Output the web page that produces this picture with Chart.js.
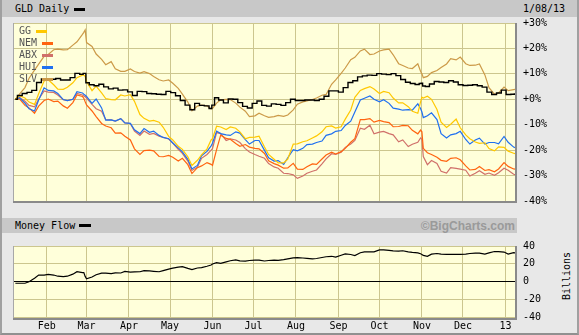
<!DOCTYPE html>
<html><head><meta charset="utf-8">
<script src="https://cdn.jsdelivr.net/npm/chart.js@4.4.1/dist/chart.umd.min.js"></script>
<style>
html,body{margin:0;padding:0;}
body{width:579px;height:335px;position:relative;overflow:hidden;background:#E8E8E8;font-family:"DejaVu Sans Mono",monospace;}
.band{position:absolute;background:#C8C8C8;}
.t{position:absolute;font-size:10px;line-height:12px;color:#000;white-space:nowrap;font-family:"DejaVu Sans Mono",monospace;}
.sw{position:absolute;background:#000;}
canvas{position:absolute;left:0;}
#frame{position:absolute;left:0;top:0;width:579px;height:335px;box-sizing:border-box;border-left:2px solid #A0A0A0;border-right:2px solid #A0A0A0;border-bottom:2px solid #909090;pointer-events:none;}
#bc{position:absolute;right:64px;top:219px;font:bold 12px "Liberation Sans",Arial,sans-serif;color:#9A9A9A;line-height:14px;}
#bil{position:absolute;left:537px;top:270px;width:60px;height:12px;text-align:center;transform:rotate(-90deg);}
</style>
</head><body>
<div class="band" style="left:2px;top:0;width:575px;height:17px;"></div>
<div class="t" style="left:15px;top:3px;">GLD Daily</div>
<div class="sw" style="left:74px;top:8px;width:11px;height:3px;"></div>
<div class="t" style="left:523px;top:3px;">1/08/13</div>
<div class="band" style="left:2px;top:218px;width:515px;height:15px;"></div>
<div class="t" style="left:15px;top:220px;">Money Flow</div>
<div class="sw" style="left:79px;top:224px;width:12px;height:3px;"></div>
<div id="bc">©BigCharts.com</div>
<div class="t" id="bil">Billions</div>
<canvas id="c1" width="579" height="215" style="top:0;width:579px;height:215px;"></canvas>
<canvas id="c2" width="579" height="103" style="top:232px;width:579px;height:103px;"></canvas>
<div id="frame"></div>
<script>
const dates = [
'2012-01-09','2012-01-12','2012-01-16','2012-01-19','2012-01-23','2012-01-26','2012-01-30',
'2012-02-02','2012-02-06','2012-02-09','2012-02-13','2012-02-16','2012-02-20','2012-02-23','2012-02-27','2012-02-28','2012-02-29',
'2012-03-01','2012-03-05','2012-03-08','2012-03-12','2012-03-15','2012-03-19','2012-03-22','2012-03-26','2012-03-29',
'2012-04-02','2012-04-05','2012-04-09','2012-04-12','2012-04-16','2012-04-19','2012-04-23','2012-04-26','2012-04-30',
'2012-05-03','2012-05-07','2012-05-10','2012-05-14','2012-05-17','2012-05-21','2012-05-24','2012-05-28','2012-05-31',
'2012-06-01','2012-06-04','2012-06-07','2012-06-11','2012-06-14','2012-06-18','2012-06-21','2012-06-25','2012-06-28',
'2012-07-02','2012-07-05','2012-07-09','2012-07-12','2012-07-16','2012-07-19','2012-07-23','2012-07-26','2012-07-30',
'2012-08-02','2012-08-06','2012-08-09','2012-08-13','2012-08-16','2012-08-20','2012-08-23','2012-08-27','2012-08-30',
'2012-09-03','2012-09-06','2012-09-10','2012-09-13','2012-09-17','2012-09-20','2012-09-24','2012-09-27',
'2012-10-01','2012-10-04','2012-10-08','2012-10-11','2012-10-15','2012-10-18','2012-10-22','2012-10-25','2012-10-29','2012-10-31',
'2012-11-01','2012-11-02','2012-11-05','2012-11-08','2012-11-12','2012-11-15','2012-11-19','2012-11-22','2012-11-26','2012-11-29',
'2012-12-03','2012-12-06','2012-12-10','2012-12-13','2012-12-17','2012-12-20','2012-12-24','2012-12-27','2012-12-31',
'2013-01-03','2013-01-07','2013-01-08'];

const gld = [0,1.5,2.3,2.7,3.5,6.6,8.0,
8.0,7.9,8.2,7.6,7.6,8.5,10.2,9.8,10.2,10.2,
6.5,5.7,5.3,5.9,4.9,4.1,4.4,3.6,3.7,
2.9,1.5,3.1,3.0,2.3,2.2,2.0,1.9,3.1,
2.6,1.4,-0.5,-2.3,-4.1,-1.6,-2.4,-2.6,-3.6,
-2.3,0.6,-0.3,-1.4,0.1,0.0,-1.3,-2.8,-3.4,
-1.6,-0.7,-2.4,-2.7,-1.8,-2.0,-2.4,-1.3,0.0,
-0.5,-0.5,-0.3,-0.3,-0.5,0.0,1.2,3.3,3.3,
2.8,4.6,6.6,7.3,8.8,9.2,9.5,9.4,
10.1,9.9,9.7,10.1,9.3,7.8,6.7,6.2,5.8,6.2,
6.3,5.2,5.0,6.0,7.0,6.8,6.6,7.3,6.8,5.7,
5.4,5.5,5.7,5.3,4.8,2.8,1.9,2.5,3.6,
1.9,2.0,2.1];

const gg = [0,1.4,0.5,-1.1,-2.0,2.2,7.2,
7.7,5.7,4.0,3.9,4.7,6.5,8.5,9.5,9.5,9.0,
7.0,3.4,5.2,2.5,0.3,-0.1,-0.2,1.7,1.3,
1.8,-0.8,-6.0,-7.5,-8.6,-8.3,-9.0,-11.0,-14.6,
-16.0,-18.5,-19.7,-22.6,-26.0,-24.0,-21.9,-19.5,-16.0,
-15.5,-10.6,-10.9,-11.9,-10.9,-11.4,-12.8,-15.5,-15.0,
-14.9,-14.5,-18.8,-21.7,-23.6,-25.0,-25.0,-23.5,-17.6,
-17.5,-16.7,-16.3,-15.2,-14.4,-12.8,-10.8,-10.5,-11.3,
-10.8,-7.8,-4.2,0.8,3.5,4.2,5.0,4.0,
2.3,3.1,2.6,0.5,-1.4,-1.4,-2.9,-4.7,-5.5,-1.0,
0.8,0.5,1.2,0.0,-4.0,-9.0,-11.1,-9.8,-7.8,-11.2,
-14.0,-15.5,-16.8,-17.3,-17.1,-19.4,-20.3,-18.7,-18.9,
-20.4,-21.2,-21.4];

const nem = [0,0.2,-2.4,-3.4,-5.5,-2.7,-0.5,
0.1,-0.9,-0.7,-2.6,-3.5,-1.3,1.7,1.1,0.4,-1.0,
-2.2,-4.6,-6.8,-9.5,-10.5,-11.2,-13.3,-13.2,-14.5,
-16.0,-19.5,-21.7,-20.2,-20.0,-20.3,-22.5,-22.6,-22.1,
-22.8,-24.3,-23.2,-25.7,-29.2,-26.9,-26.2,-24.9,-25.6,
-26.0,-19.8,-14.1,-15.4,-15.7,-17.4,-18.5,-17.8,-18.8,
-19.3,-19.5,-21.3,-24.2,-25.3,-25.9,-27.1,-27.0,-25.2,
-27.5,-27.6,-26.5,-25.4,-25.6,-23.5,-21.9,-20.8,-21.5,
-20.6,-19.3,-16.9,-15.5,-8.0,-8.0,-7.6,-9.0,
-8.3,-8.8,-9.2,-10.8,-10.7,-10.3,-10.4,-12.2,-13.6,-12.1,
-12.8,-19.3,-21.0,-21.7,-22.8,-24.0,-24.4,-23.2,-23.0,-23.8,
-26.2,-27.8,-27.6,-26.4,-28.0,-27.7,-28.5,-27.4,-24.9,
-26.4,-27.4,-27.5];

const abx = [0,0.7,-0.8,-2.4,-3.0,0.0,3.3,
2.8,2.7,1.7,-0.2,-0.5,0.0,2.3,1.7,1.3,1.0,
0.5,-2.0,-3.7,-4.7,-8.0,-8.1,-8.6,-7.6,-9.3,
-9.5,-12.5,-14.2,-12.5,-13.8,-13.4,-14.5,-15.0,-15.6,
-17.2,-19.7,-21.3,-24.3,-28.0,-26.7,-23.2,-21.7,-20.0,
-19.4,-13.1,-13.5,-16.2,-15.6,-16.0,-17.0,-19.4,-20.7,
-21.7,-22.4,-23.2,-25.3,-26.6,-27.1,-29.1,-29.2,-29.7,
-31.1,-30.2,-29.1,-28.3,-27.8,-25.4,-23.4,-21.4,-21.7,
-20.8,-18.9,-17.6,-16.2,-11.4,-11.8,-10.2,-13.6,
-12.9,-12.6,-13.5,-14.0,-16.7,-16.0,-18.6,-17.7,-16.9,-15.2,
-15.8,-22.5,-25.7,-24.1,-25.2,-28.3,-29.0,-26.9,-27.2,-27.5,
-27.9,-30.2,-29.1,-28.1,-29.5,-29.0,-29.9,-28.9,-27.1,
-27.9,-29.5,-29.6];

const hui = [0,0.6,-1.5,-3.7,-4.6,-0.3,4.5,
3.5,3.3,2.3,-0.1,-0.5,0.0,3.0,2.5,2.0,1.6,
1.1,-1.6,0.1,-3.4,-8.2,-8.1,-8.6,-7.6,-9.3,
-9.5,-12.0,-13.5,-11.5,-13.0,-12.5,-14.2,-15.0,-15.5,
-17.2,-19.1,-20.7,-23.6,-27.4,-26.0,-22.2,-20.5,-18.3,
-17.3,-12.5,-13.5,-14.0,-14.2,-12.8,-13.3,-15.9,-17.6,
-16.2,-16.2,-20.1,-23.0,-24.3,-24.1,-25.6,-23.0,-19.8,
-20.3,-19.3,-17.8,-17.6,-17.0,-16.4,-14.2,-13.6,-12.6,
-12.3,-10.3,-8.6,-5.0,-0.3,0.4,1.3,0.0,
-1.0,-0.2,-1.6,-3.5,-3.9,-4.3,-4.1,-4.3,-1.8,-3.6,
-5.0,-7.2,-6.5,-5.3,-8.0,-13.5,-15.2,-14.0,-13.5,-12.6,
-15.8,-17.6,-16.0,-15.3,-17.6,-17.0,-17.0,-17.5,-14.6,
-16.9,-18.8,-19.0];

const slv = [0,2.0,4.6,8.3,11.5,13.8,16.9,
17.6,19.5,19.7,19.4,19.5,21.3,22.6,25.5,26.3,27.3,
22.3,20.8,17.8,15.7,13.6,14.8,12.0,11.0,11.0,
11.9,10.9,10.3,10.9,10.1,9.0,7.7,7.2,7.6,
6.3,4.3,2.0,-1.1,-4.5,-2.7,-2.3,-2.6,-3.8,
-3.6,-1.5,-0.2,0.0,-0.1,-1.5,-3.1,-4.7,-6.8,
-6.5,-5.5,-6.5,-7.1,-6.8,-6.3,-6.7,-6.2,-4.2,
-1.9,-1.0,-0.6,-0.1,0.5,1.6,1.9,5.9,7.6,
10.2,12.3,15.6,16.5,19.0,19.7,17.6,17.8,
19.0,19.4,19.7,17.5,14.0,13.3,12.3,12.1,14.0,11.0,
10.0,8.5,9.0,10.5,11.3,12.5,13.9,16.0,15.5,16.6,
14.0,13.3,13.4,13.9,9.6,4.6,2.0,2.5,4.8,
3.4,3.8,3.9];

const moneyFlow = [-1.7,-1.7,-1.7,0,4.0,7.5,7.5,
8.2,7.5,6.2,5.8,6.2,8.5,11.2,10.2,10.2,6.0,
3.4,5.3,7.8,9.7,9.7,9.2,10.0,9.8,11.6,
10.8,11.0,11.2,12.5,12.1,11.7,11.2,12.5,14.2,
15.3,16.3,17.0,15.0,13.7,15.4,15.9,17.3,18.7,
19.8,21.4,20.5,22.2,23.5,24.5,23.4,23.0,23.8,
24.2,24.2,23.2,23.8,24.3,24.0,24.7,25.5,26.7,
27.0,26.6,26.2,25.7,26.0,27.1,28.0,28.5,27.6,
29.6,31.1,30.5,29.2,32.5,33.5,33.5,33.5,
35.7,35.6,35.1,34.5,34.2,34.7,33.4,32.8,32.3,31.3,
30.6,29.5,28.5,30.9,31.6,30.9,30.6,30.6,30.6,30.6,
30.9,31.6,32.1,32.0,31.0,32.3,33.8,33.6,33.2,
31.0,32.5,32.3];

const monthTicks = ['2012-02-01','2012-03-01','2012-04-01','2012-05-01','2012-06-01','2012-07-01','2012-08-01','2012-09-01','2012-10-01','2012-11-01','2012-12-01','2013-01-01'];
const monthLabels = ['Feb','Mar','Apr','May','Jun','Jul','Aug','Sep','Oct','Nov','Dec','13'];
const pctTicks = [30,20,10,0,-10,-20,-30,-40];
const flowTicks = [40,20,0,-20,-40];
const legendNames = ['GG','NEM','ABX','HUI','SLV'];

const COLORS = {GLD:'#000000', GG:'#FFC800', NEM:'#FF6410', ABX:'#D0706A', HUI:'#2070F0', SLV:'#CC9A48'};
const GRID = '#CCC68E';
const PLOT_BG = '#FFFFDA';
const FONT = {family:'"DejaVu Sans Mono", monospace', size:10};
const xMin = Date.UTC(2012,0,8), xMax = Date.UTC(2013,0,8);
const xs = dates.map(d => Date.parse(d));
const pts = arr => arr.map((v,i) => ({x: xs[i], y: v}));

function xAxis(showLabels, h){
  return {
    type:'linear', min:xMin, max:xMax,
    afterBuildTicks: s => { s.ticks = monthTicks.map(d => ({value: Date.parse(d)})); },
    ticks:{display:showLabels, autoSkip:false, maxRotation:0, padding:3, color:'#000', font:FONT,
      callback: v => { const i = monthTicks.findIndex(d => Date.parse(d) === v); return i >= 0 ? monthLabels[i] : ''; }},
    grid:{color:GRID, drawTicks:false, lineWidth:1},
    border:{display:false},
    afterFit: s => { s.height = h; }
  };
}

const bgPlugin = {
  id:'bg',
  beforeDraw(chart){
    const {ctx, chartArea:a} = chart;
    ctx.save(); ctx.fillStyle = PLOT_BG;
    ctx.fillRect(a.left, a.top, a.right-a.left, a.bottom-a.top);
    ctx.restore();
  },
  afterDraw(chart){
    const {ctx, chartArea:a} = chart;
    ctx.save();
    ctx.fillStyle = '#A8A8A8';
    ctx.fillRect(Math.round(a.left)-1, Math.round(a.top), 1, Math.round(a.bottom-a.top)+1);
    ctx.fillStyle = '#8A8A8A';
    ctx.fillRect(Math.round(a.left)-1, Math.round(a.bottom), Math.round(a.right-a.left)+3, 2);
    ctx.fillRect(Math.round(a.right), Math.round(a.top), 2, Math.round(a.bottom-a.top)+2);
    ctx.restore();
  }
};

const legendPlugin = {
  id:'legendOverlay',
  afterDatasetsDraw(chart){
    const {ctx, chartArea:a} = chart;
    ctx.save();
    ctx.font = '10px "DejaVu Sans Mono", monospace';
    ctx.textBaseline = 'middle';
    legendNames.forEach((n, i) => {
      const y = a.top + 8 + i*12;
      const x = a.left + 5;
      ctx.fillStyle = '#555555';
      ctx.fillText(n, x, y);
      const w = ctx.measureText(n).width;
      ctx.fillStyle = COLORS[n];
      ctx.fillRect(Math.round(x + w + 5), Math.round(y) - 1, 11, 3);
    });
    ctx.restore();
  }
};

function ds(label, arr, extra){
  return Object.assign({label, data: pts(arr), borderColor: COLORS[label], borderWidth:1.2,
    pointRadius:0, tension:0, fill:false}, extra || {});
}

new Chart(document.getElementById('c1'), {
  type:'line',
  data:{datasets:[
    ds('GLD', gld, {stepped:'middle', borderWidth:1.4}),
    ds('GG', gg), ds('HUI', hui), ds('NEM', nem), ds('ABX', abx), ds('SLV', slv)
  ]},
  options:{
    responsive:false, animation:false, devicePixelRatio:1,
    layout:{padding:{left:14, top:23, right:0, bottom:7}},
    plugins:{legend:{display:false}, tooltip:{enabled:false}},
    scales:{
      x: xAxis(false, 0),
      y: {position:'right', min:-40, max:30,
        afterBuildTicks: s => { s.ticks = pctTicks.map(v => ({value:v})); },
        ticks:{padding:8, color:'#000', font:FONT, callback: v => (v >= 0 ? '+' : '') + v + '%'},
        grid:{color:GRID, drawTicks:false, lineWidth:1},
        border:{display:false},
        afterFit: s => { s.width = 64; }}
    }
  },
  plugins:[bgPlugin, legendPlugin]
});

new Chart(document.getElementById('c2'), {
  type:'line',
  data:{datasets:[ds('GLD', moneyFlow, {label:'Money Flow', borderColor:'#000', borderWidth:1.2})]},
  options:{
    responsive:false, animation:false, devicePixelRatio:1,
    layout:{padding:{left:14, top:7, right:0, bottom:0}},
    plugins:{legend:{display:false}, tooltip:{enabled:false}},
    scales:{
      x: xAxis(true, 17.5),
      y: {position:'right', min:-40, max:40,
        afterBuildTicks: s => { s.ticks = flowTicks.map(v => ({value:v})); },
        ticks:{padding:8, color:'#000', font:FONT, callback: v => String(v)},
        grid:{color: c => (c.tick && c.tick.value === 0) ? '#000000' : GRID, drawTicks:false, lineWidth:1},
        border:{display:false},
        afterFit: s => { s.width = 64; }}
    }
  },
  plugins:[bgPlugin]
});
</script>
</body></html>
